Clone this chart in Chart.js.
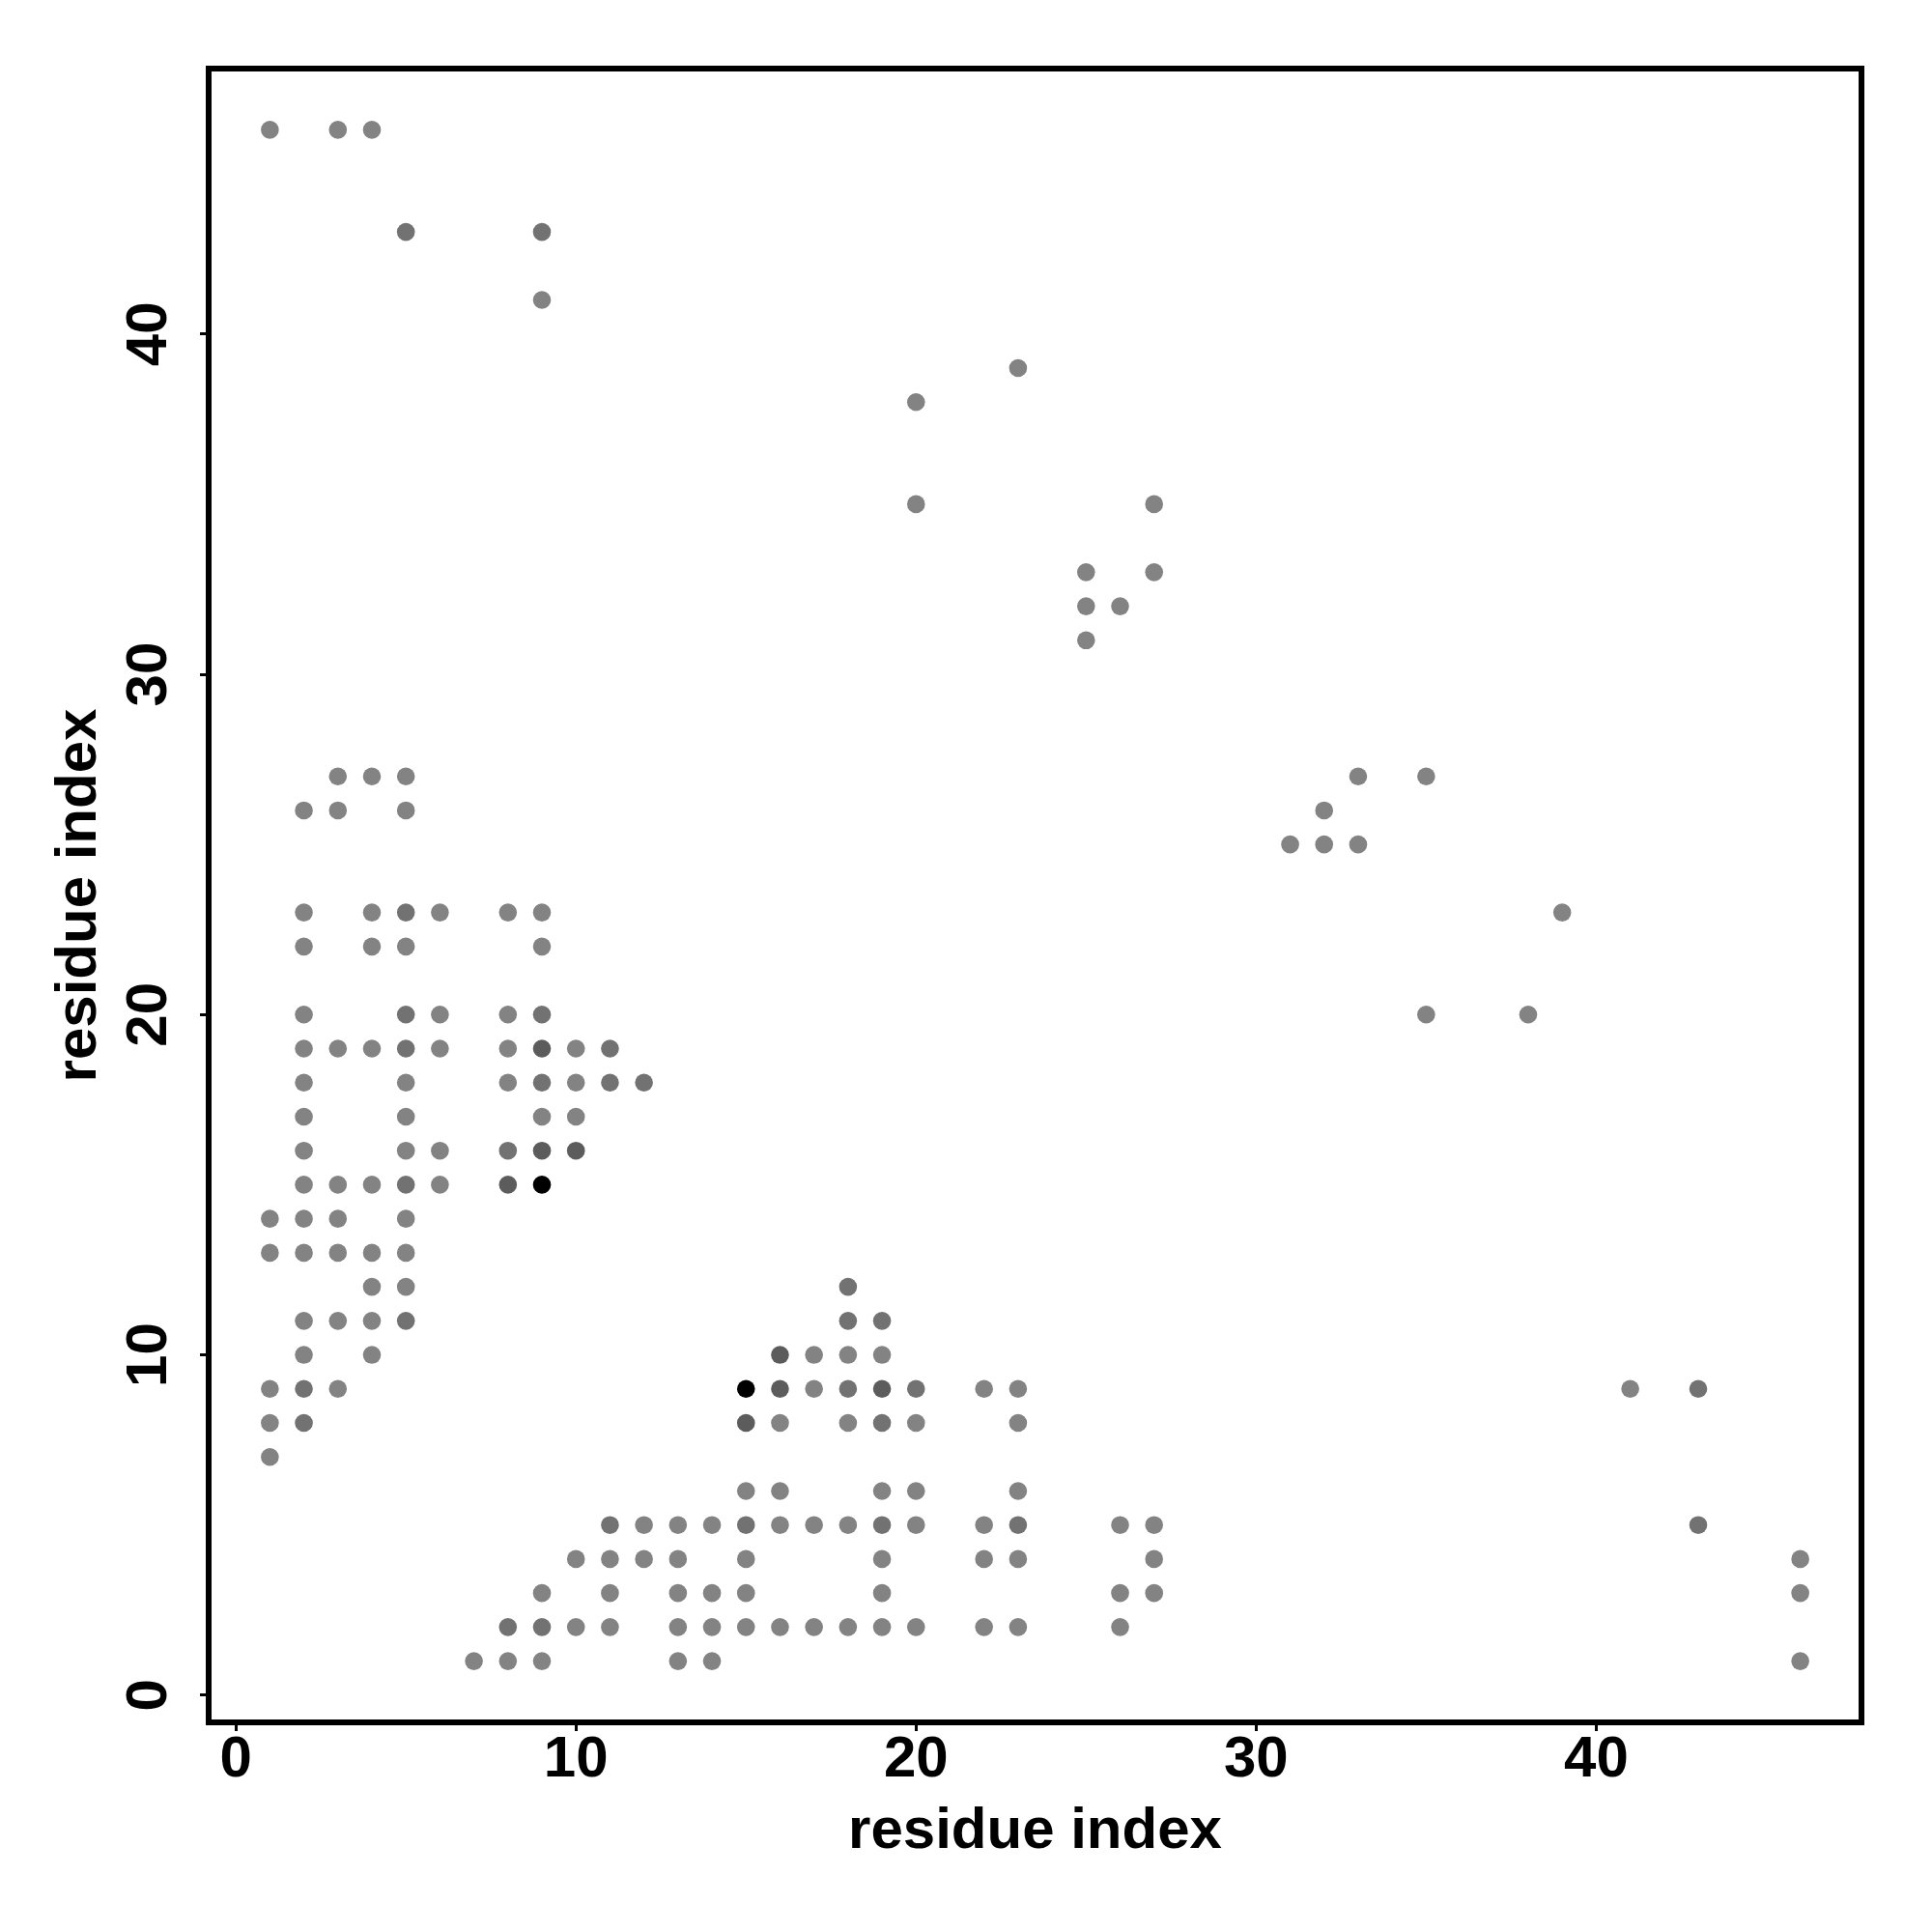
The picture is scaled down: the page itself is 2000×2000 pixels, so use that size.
<!DOCTYPE html>
<html>
<head>
<meta charset="utf-8">
<title>Residue contact map</title>
<script src="https://cdn.jsdelivr.net/npm/chart.js@4.4.1/dist/chart.umd.min.js"></script>
<style>
  html, body { margin: 0; padding: 0; background: #fff; }
  #contactChart { display: block; }
</style>
</head>
<body>
<canvas id="contactChart" width="2000" height="2000"></canvas>
<script>
// --- Data: [x residue, y residue] contacts, grouped by how dark the dot is ---
const normalContacts = [
    [1, 46], [3, 46], [4, 46], [9, 41], [23, 39], [20, 38], [20, 35], [27, 35],
    [25, 33], [27, 33], [25, 32], [26, 32], [25, 31],
    [3, 27], [4, 27], [5, 27], [33, 27], [35, 27],
    [2, 26], [3, 26], [5, 26], [32, 26],
    [31, 25], [32, 25], [33, 25],
    [2, 23], [4, 23], [6, 23], [8, 23], [9, 23], [39, 23],
    [2, 22], [4, 22], [5, 22], [9, 22],
    [2, 20], [6, 20], [8, 20], [35, 20], [38, 20],
    [2, 19], [3, 19], [4, 19], [6, 19], [8, 19], [10, 19],
    [2, 18], [5, 18], [8, 18], [10, 18],
    [2, 17], [5, 17], [9, 17], [10, 17],
    [2, 16], [5, 16], [6, 16],
    [2, 15], [3, 15], [4, 15], [6, 15],
    [1, 14], [2, 14], [3, 14], [5, 14],
    [1, 13], [2, 13], [3, 13], [4, 13], [5, 13],
    [4, 12], [5, 12],
    [2, 11], [3, 11], [4, 11],
    [2, 10], [4, 10], [17, 10], [18, 10], [19, 10],
    [1, 9], [3, 9], [17, 9], [22, 9], [23, 9], [41, 9],
    [1, 8], [16, 8], [18, 8], [20, 8], [23, 8],
    [1, 7],
    [15, 6], [16, 6], [19, 6], [20, 6], [23, 6],
    [12, 5], [13, 5], [14, 5], [16, 5], [17, 5], [18, 5], [20, 5], [22, 5], [26, 5], [27, 5],
    [10, 4], [11, 4], [12, 4], [13, 4], [15, 4], [19, 4], [22, 4], [23, 4], [27, 4], [46, 4],
    [9, 3], [11, 3], [13, 3], [14, 3], [15, 3], [19, 3], [26, 3], [27, 3], [46, 3],
    [10, 2], [11, 2], [13, 2], [14, 2], [15, 2], [16, 2], [17, 2], [18, 2], [19, 2], [20, 2],
    [22, 2], [23, 2], [26, 2],
    [7, 1], [8, 1], [9, 1], [13, 1], [14, 1], [46, 1]
];

const darkContacts = [
    [5, 43], [9, 43], [5, 23], [5, 20], [9, 20], [5, 19], [11, 19],
    [9, 18], [11, 18], [12, 18], [8, 16], [5, 15], [5, 11],
    [18, 12], [18, 11], [19, 11], [2, 9], [18, 9], [20, 9], [43, 9],
    [2, 8], [19, 8], [11, 5], [15, 5], [19, 5], [23, 5], [43, 5], [8, 2], [9, 2]
];

const darkerContacts = [
    [9, 19], [9, 16], [10, 16], [8, 15], [16, 10], [16, 9], [19, 9], [15, 8]
];

const blackContacts = [[9, 15], [15, 9]];

const tickValues = [0, 10, 20, 30, 40];
const axisTitle = 'residue index';

// --- Look ---
const shades = {
    normal: '#838383',
    dark: '#727272',
    darker: '#5c5c5c',
    black: '#000000'
};
const labelFont = 'bold 60px "Liberation Sans", Arial, Helvetica, sans-serif';

const toPoints = (pairs) => pairs.map(([x, y]) => ({ x, y }));

const makeSet = (label, pairs, color) => ({
    label,
    data: toPoints(pairs),
    backgroundColor: color,
    borderWidth: 0,
    pointRadius: 9.3,
    pointHoverRadius: 9.3
});

// frame round the plot region, tick labels and axis titles (R style)
const frameAndLabels = {
    id: 'frameAndLabels',
    afterDraw(chart) {
        const { ctx, chartArea: a, scales: { x, y } } = chart;
        ctx.save();
        ctx.strokeStyle = '#000';
        ctx.lineWidth = 6;
        ctx.strokeRect(a.left, a.top, a.right - a.left, a.bottom - a.top);

        ctx.fillStyle = '#000';
        ctx.font = labelFont;
        ctx.textAlign = 'center';
        ctx.textBaseline = 'alphabetic';

        tickValues.forEach(v => {
            ctx.fillText(String(v), x.getPixelForValue(v), a.bottom + 56);
        });
        tickValues.forEach(v => {
            ctx.save();
            ctx.translate(a.left - 44, y.getPixelForValue(v));
            ctx.rotate(-Math.PI / 2);
            ctx.fillText(String(v), 0, 0);
            ctx.restore();
        });

        ctx.fillText(axisTitle, (a.left + a.right) / 2, a.bottom + 130);
        ctx.save();
        ctx.translate(a.left - 117, (a.top + a.bottom) / 2);
        ctx.rotate(-Math.PI / 2);
        ctx.fillText(axisTitle, 0, 0);
        ctx.restore();
        ctx.restore();
    }
};

const axisOptions = (fit) => ({
    type: 'linear',
    min: -0.8,
    max: 47.8,
    afterBuildTicks: (scale) => { scale.ticks = tickValues.map(v => ({ value: v })); },
    afterFit: fit,
    ticks: { display: false },
    grid: {
        drawOnChartArea: false,
        drawTicks: true,
        tickLength: 9,
        tickWidth: 3,
        tickColor: '#000'
    },
    border: { display: false }
});

new Chart(document.getElementById('contactChart'), {
    type: 'scatter',
    data: {
        datasets: [
            makeSet('normal', normalContacts, shades.normal),
            makeSet('dark', darkContacts, shades.dark),
            makeSet('darker', darkerContacts, shades.darker),
            makeSet('black', blackContacts, shades.black)
        ]
    },
    options: {
        responsive: false,
        animation: false,
        devicePixelRatio: 1,
        layout: { padding: { top: 71, right: 73, left: 0, bottom: 0 } },
        plugins: {
            legend: { display: false },
            tooltip: { enabled: false }
        },
        events: [],
        scales: {
            x: axisOptions((s) => { s.height = 217; }),
            y: axisOptions((s) => { s.width = 216; })
        }
    },
    plugins: [frameAndLabels]
});
</script>
</body>
</html>
